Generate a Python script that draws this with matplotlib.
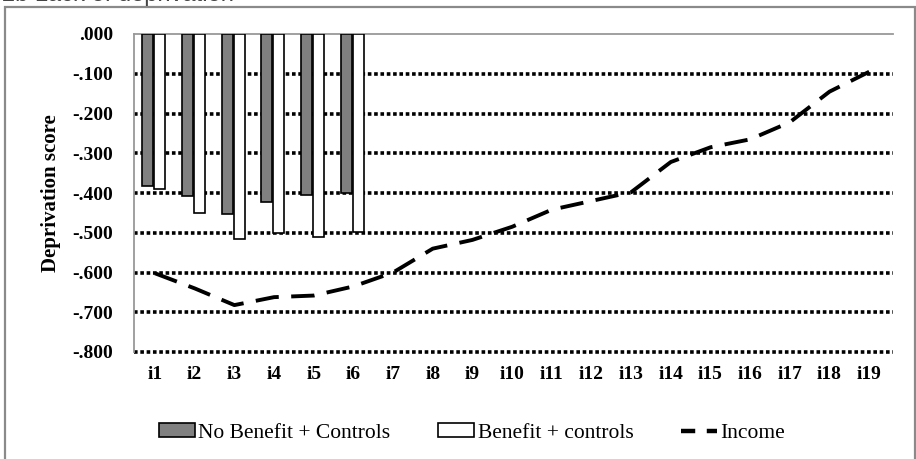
import matplotlib
matplotlib.use("Agg")
import matplotlib.pyplot as plt
from matplotlib.patches import Rectangle, Patch
from matplotlib.lines import Line2D
import numpy as np

categories = ["i%d" % i for i in range(1, 20)]
no_benefit = [-0.382, -0.408, -0.453, -0.423, -0.405, -0.400]
benefit = [-0.390, -0.450, -0.516, -0.500, -0.511, -0.497]
income = [-0.602, -0.640, -0.682, -0.662, -0.658, -0.635, -0.600, -0.540,
          -0.518, -0.485, -0.442, -0.420, -0.398, -0.322, -0.285, -0.265,
          -0.222, -0.145, -0.095]
yticks = [0.0, -0.1, -0.2, -0.3, -0.4, -0.5, -0.6, -0.7, -0.8]
ytick_labels = [".000", "-.100", "-.200", "-.300", "-.400", "-.500", "-.600", "-.700", "-.800"]

W, H = 916, 459
fig = plt.figure(figsize=(W / 100, H / 100), dpi=100)

# outer frame and cut-off heading
fig.patches.append(Rectangle((5 / W, -0.05), (910 / W), 1 - 7 / H + 0.05,
                             transform=fig.transFigure, fill=False,
                             edgecolor="#8a8a8a", linewidth=1.6))
fig.text(2 / W, 1 - 1.5 / H, "2b Lack of deprivation", fontsize=17, color="#444444",
         family="Liberation Sans", va="baseline", ha="left")

ax = fig.add_axes([134 / W, 1 - 352 / H, (893 - 134) / W, (352 - 34) / H])

x = np.arange(len(categories))
bw = 0.28
xb = np.arange(len(no_benefit))
ax.bar(xb - bw / 2 - 0.04, no_benefit, width=bw, color="#808080",
       edgecolor="black", linewidth=1.2, zorder=3, label="No Benefit + Controls")
ax.bar(xb + bw / 2 - 0.02, benefit, width=bw, color="white",
       edgecolor="black", linewidth=1.2, zorder=3, label="Benefit + controls")
ax.plot(x, income, color="black", linewidth=2.8, linestyle=(0, (6, 3.2)),
        zorder=4, label="Income")

ax.set_ylim(-0.8, 0.0)
ax.set_xlim(-0.53, 18.6)
for yv in yticks[1:]:
    ax.axhline(yv, color="black", linewidth=2.6, linestyle=(0, (1, 0.75)),
               zorder=1, clip_on=False)

ax.set_yticks(yticks)
ax.set_yticklabels(ytick_labels, fontsize=14, fontweight="bold",
                   family="Liberation Serif")
ax.set_xticks(x)
ax.set_xticklabels(categories, fontsize=14, fontweight="bold",
                   family="Liberation Serif")
ax.tick_params(axis="both", length=0)
ax.tick_params(axis="y", pad=15)
ax.tick_params(axis="x", pad=10)
ax.tick_params(axis="x", labeltop=False, labelbottom=True)

for s in ["right", "bottom"]:
    ax.spines[s].set_visible(False)
for s in ["left", "top"]:
    ax.spines[s].set_color("#999999")
    ax.spines[s].set_linewidth(1.3)

ax.set_ylabel("Deprivation score", fontsize=15, fontweight="bold",
              family="Liberation Serif", labelpad=8)

handles = [Patch(facecolor="#808080", edgecolor="black", linewidth=1.2),
           Patch(facecolor="white", edgecolor="black", linewidth=1.2),
           Line2D([0], [0], color="black", linewidth=3.2, linestyle=(0, (3.2, 2.6)))]
fig.legend(handles, ["No Benefit + Controls", "Benefit + controls", "Income"],
           loc="center", bbox_to_anchor=(472 / W, 1 - 433 / H), ncol=3,
           frameon=False, prop={"family": "Liberation Serif", "size": 15.5},
           handlelength=1.7, handleheight=0.6, handletextpad=0.15, columnspacing=2.2)

fig.savefig("out.png", dpi=100)
